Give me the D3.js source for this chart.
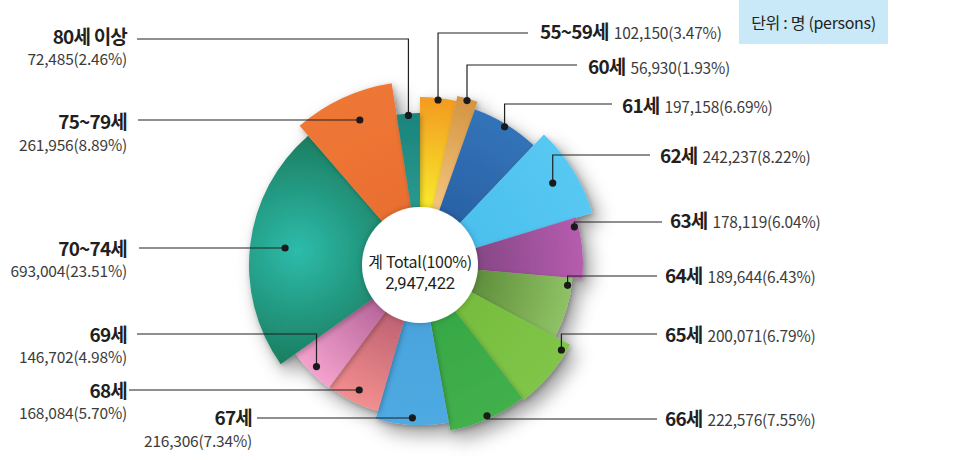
<!DOCTYPE html>
<html>
<head>
<meta charset="utf-8">
<script src="https://cdn.jsdelivr.net/npm/d3@7"></script>
<style>
  html, body { margin: 0; padding: 0; background: #ffffff; }
  svg { display: block; }
  text { font-family: "Noto Sans CJK KR", "Noto Sans", sans-serif; }
</style>
</head>
<body>
<svg id="chart" width="972" height="460"></svg>
<script>
// ---------------- DATA ----------------
const categories = ["55~59세", "60세", "61세", "62세", "63세", "64세", "65세", "66세", "67세", "68세", "69세", "70~74세", "75~79세", "80세 이상"];
const values = [102150, 56930, 197158, 242237, 178119, 189644, 200071, 222576, 216306, 168084, 146702, 693004, 261956, 72485];
const percentLabels = ["3.47%", "1.93%", "6.69%", "8.22%", "6.04%", "6.43%", "6.79%", "7.55%", "7.34%", "5.70%", "4.98%", "23.51%", "8.89%", "2.46%"];
const totalLabel = "2,947,422";
const centerTitle = "계 Total(100%)";
const unitLabel = "단위 : 명 (persons)";

// ---------------- STYLE / LAYOUT ----------------
const W = 972, H = 460;
const cx = 420, cy = 265, innerR = 58;
// decorative outer radius of every slice (same order as categories)
const outerRadii = [168, 173, 165, 180, 163, 153, 170, 168, 160, 152, 153, 171, 184, 152];
// [inner colour, outer colour] of every slice
const sliceColors = [
  ["#f9ea2c", "#f39a22"],
  ["#f5c57c", "#d39442"],
  ["#2a62a6", "#3373b8"],
  ["#4cc0ee", "#56c8f2"],
  ["#864786", "#b65cae"],
  ["#5d8c39", "#8fc265"],
  ["#76bd3e", "#80c548"],
  ["#37a845", "#42b04c"],
  ["#4aa3dc", "#4faae2"],
  ["#bd6072", "#f28e8e"],
  ["#b5649a", "#f4a2cd"],
  ["#2dbcab", "#1a7a5c"],
  ["#ea6f30", "#ee7736"],
  ["#2a9a90", "#1b847c"]
];
// label layout: side, x anchor, name baseline, leader y, leader end x, mode, dot inset
const labelLayout = [
  { side: "R", x: 540, y: 39,  ly: 33,  lx: 528, mode: "elbow", inset: 2 },
  { side: "R", x: 588, y: 74,  ly: 65,  lx: 577, mode: "elbow", inset: 2 },
  { side: "R", x: 622, y: 113, ly: 104, lx: 612, mode: "elbow", inset: 3 },
  { side: "R", x: 660, y: 163, ly: 155, lx: 650, mode: "elbow", inset: 24 },
  { side: "R", x: 670, y: 228, ly: 222, lx: 662, mode: "h", inset: 4 },
  { side: "R", x: 665, y: 283, ly: 276, lx: 657, mode: "h", inset: 4 },
  { side: "R", x: 665, y: 342, ly: 334, lx: 657, mode: "h", inset: 5 },
  { side: "R", x: 665, y: 426, ly: 419, lx: 657, mode: "elbow", inset: 3 },
  { side: "L", x: 252, y: 425, ly: 418, lx: 257, mode: "h", vy: 447, inset: 7 },
  { side: "L", x: 127, y: 398, ly: 390, lx: 129, mode: "h", vy: 419, inset: 13 },
  { side: "L", x: 127, y: 342, ly: 334, lx: 137, mode: "elbow", vy: 363, inset: 8 },
  { side: "L", x: 127, y: 256, ly: 248, lx: 139, mode: "h", vy: 277, inset: 35 },
  { side: "L", x: 127, y: 129, ly: 120, lx: 138, mode: "h", vy: 151, inset: 27 },
  { side: "L", x: 127, y: 44,  ly: 39,  lx: 137, mode: "elbow", vy: 65, inset: 2 }
];

const svg = d3.select("#chart");
const defs = svg.append("defs");

const shadow = defs.append("filter").attr("id", "pieShadow")
  .attr("x", "-30%").attr("y", "-30%").attr("width", "170%").attr("height", "170%");
shadow.append("feDropShadow").attr("dx", 7).attr("dy", 9).attr("stdDeviation", 9)
  .attr("flood-color", "#000").attr("flood-opacity", 0.38);

const sliceShadow = defs.append("filter").attr("id", "sliceShadow")
  .attr("x", "-30%").attr("y", "-30%").attr("width", "160%").attr("height", "160%");
sliceShadow.append("feDropShadow").attr("dx", 1.5).attr("dy", 2).attr("stdDeviation", 2.5)
  .attr("flood-color", "#000").attr("flood-opacity", 0.25);

const holeShadow = defs.append("filter").attr("id", "holeShadow")
  .attr("x", "-30%").attr("y", "-30%").attr("width", "160%").attr("height", "160%");
holeShadow.append("feDropShadow").attr("dx", 0).attr("dy", 0).attr("stdDeviation", 3)
  .attr("flood-color", "#000").attr("flood-opacity", 0.25);

// ---------------- PIE ----------------
const pie = d3.pie().sort(null).value(d => d).startAngle(0).endAngle(2 * Math.PI);
const arcsData = pie(values);

const g = svg.append("g").attr("transform", `translate(${cx},${cy})`);
const pieGroup = g.append("g").attr("filter", "url(#pieShadow)");

arcsData.forEach((d, i) => {
  const mid = (d.startAngle + d.endAngle) / 2;
  const grad = defs.append("radialGradient").attr("id", "grad" + i)
    .attr("gradientUnits", "userSpaceOnUse");
  if (i === 11) {
    const rr = outerRadii[i] * 0.72;
    grad.attr("cx", Math.sin(mid) * rr).attr("cy", -Math.cos(mid) * rr).attr("r", 120)
      .attr("fx", Math.sin(mid) * rr).attr("fy", -Math.cos(mid) * rr);
    grad.append("stop").attr("offset", 0).attr("stop-color", sliceColors[i][0]);
    grad.append("stop").attr("offset", 1).attr("stop-color", sliceColors[i][1]);
  } else {
    grad.attr("cx", 0).attr("cy", 0).attr("r", outerRadii[i]);
    grad.append("stop").attr("offset", 0.35).attr("stop-color", sliceColors[i][0]);
    grad.append("stop").attr("offset", 1).attr("stop-color", sliceColors[i][1]);
  }
});

const arcGen = d3.arc().innerRadius(innerR - 2).outerRadius((d, i) => outerRadii[i]);
pieGroup.selectAll("path.slice")
  .data(arcsData)
  .join("path")
  .attr("class", "slice")
  .attr("d", (d, i) => arcGen(d, i))
  .attr("fill", (d, i) => `url(#grad${i})`)
  .attr("filter", "url(#sliceShadow)");

// center hole
g.append("circle").attr("r", innerR).attr("fill", "#ffffff").attr("filter", "url(#holeShadow)");
g.append("text").attr("text-anchor", "middle").attr("y", 3)
  .attr("font-size", 16).attr("fill", "#231f20").attr("letter-spacing", -0.3)
  .text(centerTitle);
g.append("text").attr("text-anchor", "middle").attr("y", 24)
  .style("font-family", "Roboto, 'Noto Sans', sans-serif")
  .attr("font-size", 16.5).attr("fill", "#231f20").attr("letter-spacing", -0.2)
  .text(totalLabel);

// ---------------- LABELS & LEADERS ----------------
const fmt = d3.format(",");
const deg = Math.PI / 180;
const leaderG = svg.append("g");
const labelG = svg.append("g");

arcsData.forEach((d, i) => {
  const L = labelLayout[i];
  const dotR = outerRadii[i] - L.inset;
  let ang = (d.startAngle + d.endAngle) / 2;
  if (L.mode === "h") {
    const dy = L.ly - cy;
    if (Math.abs(dy) < dotR) {
      const base = Math.acos(-dy / dotR);
      let a = L.side === "R" ? base : 2 * Math.PI - base;
      const m = Math.min(3 * deg, (d.endAngle - d.startAngle) / 3);
      a = Math.max(d.startAngle + m, Math.min(d.endAngle - m, a));
      ang = a;
    }
  }
  const dx = cx + Math.sin(ang) * dotR;
  const dyy = cy - Math.cos(ang) * dotR;

  leaderG.append("path")
    .attr("d", `M${L.lx},${L.ly}H${dx}V${dyy}`)
    .attr("fill", "none").attr("stroke", "#231f20").attr("stroke-width", 1.2);
  leaderG.append("circle").attr("cx", dx).attr("cy", dyy).attr("r", 3.6).attr("fill", "#1a1a1a");

  const valText = `${fmt(values[i])}(${percentLabels[i]})`;
  if (L.side === "R") {
    const t = labelG.append("text").attr("x", L.x).attr("y", L.y).attr("text-anchor", "start");
    t.append("tspan").attr("font-size", 19).attr("font-weight", 700).attr("fill", "#231f20")
      .attr("letter-spacing", -0.8).text(categories[i]);
    t.append("tspan").attr("dx", 5).attr("font-size", 15.5).attr("fill", "#3c3c3c")
      .attr("letter-spacing", -0.2).text(valText);
  } else {
    labelG.append("text").attr("x", L.x).attr("y", L.y).attr("text-anchor", "end")
      .attr("font-size", 19).attr("font-weight", 700).attr("fill", "#231f20")
      .attr("letter-spacing", -0.8).text(categories[i]);
    labelG.append("text").attr("x", L.x).attr("y", L.vy).attr("text-anchor", "end")
      .attr("font-size", 15.5).attr("fill", "#3c3c3c").attr("letter-spacing", -0.2)
      .text(valText);
  }
});

// ---------------- UNIT BOX ----------------
svg.append("rect").attr("x", 739).attr("y", 0).attr("width", 149).attr("height", 44)
  .attr("fill", "#c9e8f8");
svg.append("text").attr("x", 813.5).attr("y", 29).attr("text-anchor", "middle")
  .attr("font-size", 16).attr("fill", "#231f20").attr("letter-spacing", -0.3)
  .text(unitLabel);
</script>
</body>
</html>
